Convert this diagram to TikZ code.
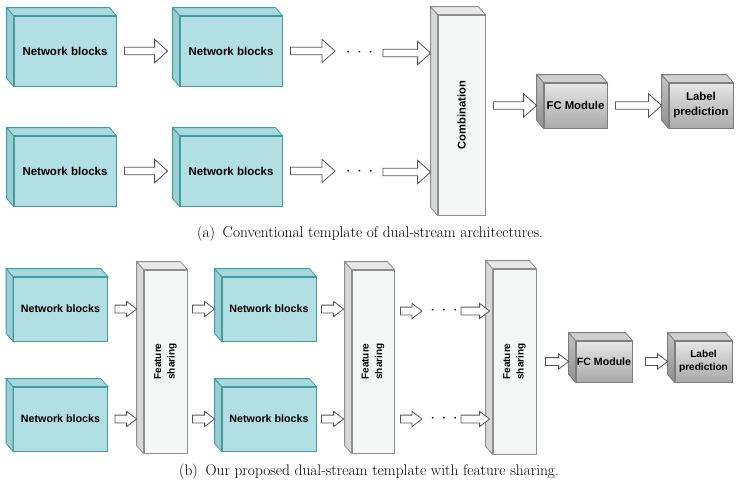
\documentclass[tikz,border=0pt]{standalone}
\usepackage{fontspec}
\newfontfamily\boxfont{Liberation Sans}
\usetikzlibrary{calc}

\definecolor{netfront}{HTML}{B2DFE3}
\definecolor{netsidec}{HTML}{9CCDD0}
\definecolor{nettopc}{HTML}{A8D8DC}
\definecolor{netline}{HTML}{3E9EA2}
\definecolor{barfront}{HTML}{F5F6F6}
\definecolor{barsidec}{HTML}{D8D8D8}
\definecolor{bartopc}{HTML}{E8E8E8}
\definecolor{barline}{HTML}{8E8E8E}
\definecolor{fctop}{HTML}{E6E6E6}
\definecolor{fcbottom}{HTML}{A9A9A9}
\definecolor{fcline}{HTML}{7E7E7E}
\definecolor{arrowline}{HTML}{555555}

% side and top faces behind a front node
\newcommand{\depthfaces}[3]{%
  \filldraw[#2] (#1.north west) -- ++(-7,-8) -- ([shift={(-7,-8)}]#1.south west) -- (#1.south west) -- cycle;
  \filldraw[#3] (#1.north west) -- ++(-7,-8) -- ([shift={(-7,-8)}]#1.north east) -- (#1.north east) -- cycle;}
\newcommand{\dotrow}{${\cdot}\hspace{6.5pt}{\cdot}\hspace{6.5pt}{\cdot}$}

\tikzset{
  netblock/.style={draw=netline, fill=netfront, line width=.8pt, inner sep=0pt,
    minimum width=102pt, minimum height=70pt,
    font=\boxfont\bfseries\fontsize{11.5}{13}\selectfont},
  netsmall/.style={netblock, minimum width=94pt, minimum height=64pt,
    font=\boxfont\bfseries\fontsize{10.7}{12}\selectfont},
  netside/.style={fill=netsidec, draw=netline, line width=.8pt},
  nettop/.style={fill=nettopc, draw=netline, line width=.8pt},
  bar/.style={draw=barline, fill=barfront, line width=.8pt, inner sep=0pt},
  barside/.style={fill=barsidec, draw=barline, line width=.8pt},
  bartop/.style={fill=bartopc, draw=barline, line width=.8pt},
  bartext/.style={rotate=90, align=center, font=\boxfont\bfseries\fontsize{10}{13.5}\selectfont},
  fcbox/.style={draw=fcline, top color=fctop, bottom color=fcbottom, line width=.8pt,
    inner sep=0pt, align=center},
  fcside/.style={draw=fcline, top color=fctop!85!black, bottom color=fcbottom!85!black, line width=.8pt},
  fctopface/.style={draw=fcline, fill=fctop!90!black, line width=.8pt},
  dots/.style={inner sep=0pt, font=\fontsize{17}{17}\selectfont},
  caption/.style={anchor=base, font=\fontsize{15.4}{18}\selectfont},
  fat/.style={draw=arrowline, fill=white, line width=.8pt, line join=miter,
    to path={let \p1=(\tikztostart), \p2=(\tikztotarget) in
      (\x1,\y1+\sh) -- (\x2-\hl,\y1+\sh) -- (\x2-\hl,\y1+\hh) -- (\x2,\y1)
      -- (\x2-\hl,\y1-\hh) -- (\x2-\hl,\y1-\sh) -- (\x1,\y1-\sh) -- cycle}},
  bigarrow/.style={fat, /utils/exec={\def\sh{3.8pt}\def\hh{11.7pt}\def\hl{13pt}}},
  smallarrow/.style={fat, /utils/exec={\def\sh{3.9pt}\def\hh{7.6pt}\def\hl{10pt}}},
}

\begin{document}
\begin{tikzpicture}[x=1pt,y=-1pt]
  \useasboundingbox (0,0) rectangle (740,483);

  % (a) conventional template
  \node[netblock] (nbA1) at (65,51) {Network blocks};
  \node[netblock] (nbA2) at (231,51) {Network blocks};
  \node[netblock] (nbA3) at (65,171) {Network blocks};
  \node[netblock] (nbA4) at (231,171) {Network blocks};
  \foreach \n in {nbA1,nbA2,nbA3,nbA4} {\depthfaces{\n}{netside}{nettop}}
  \node[bar, minimum width=47pt, minimum height=200pt] (comb) at (461.5,115) {};
  \depthfaces{comb}{barside}{bartop}
  \node[bartext, font=\boxfont\bfseries\fontsize{11.2}{13}\selectfont] (combtext) at (comb) {Combination};
  \node[fcbox, minimum width=63pt, minimum height=45pt,
    font=\boxfont\bfseries\fontsize{11.3}{13}\selectfont] (fcA) at (575.5,105.5) {FC Module};
  \depthfaces{fcA}{fcside}{fctopface}
  \node[fcbox, minimum width=64pt, minimum height=45pt,
    font=\boxfont\bfseries\fontsize{11.4}{15}\selectfont] (lpA) at (701,105.5) {Label\\prediction};
  \depthfaces{lpA}{fcside}{fctopface}
  \node[dots] (dotsA1) at (359.5,53) {\dotrow};
  \node[dots] (dotsA2) at (359.5,172) {\dotrow};

  \draw[bigarrow] ([xshift=8]nbA1.east) to ([xshift=-12]nbA2.west);
  \draw[bigarrow] ([xshift=8]nbA3.east) to ([xshift=-12]nbA4.west);
  \draw[bigarrow] ([xshift=8]nbA2.east) to ($(dotsA1)+(-24.5,0)$);
  \draw[bigarrow] ([xshift=8]nbA4.east) to ($(dotsA2)+(-24.5,0)$);
  \draw[bigarrow] ($(dotsA1)+(23.5,0)$) to ([xshift=-7]comb.west);
  \draw[bigarrow] ($(dotsA2)+(23.5,0)$) to ([xshift=-7]comb.west);
  \draw[bigarrow] ([xshift=8]comb.east |- fcA.west) to ([xshift=-7]fcA.west);
  \draw[bigarrow] ([xshift=8]fcA.east) to ([xshift=-7]lpA.west);

  \node[caption] (capA) at (370,237) {(a)\enspace Conventional template of dual-stream architectures.};

  % (b) template with feature sharing
  \node[netsmall] (nbB1) at (60.5,309) {Network blocks};
  \node[netsmall] (nbB2) at (60.5,419) {Network blocks};
  \node[netsmall] (nbB3) at (269,309) {Network blocks};
  \node[netsmall] (nbB4) at (269,419) {Network blocks};
  \foreach \n in {nbB1,nbB2,nbB3,nbB4} {\depthfaces{\n}{netside}{nettop}}
  \node[bar, minimum width=43pt, minimum height=183pt] (fs1) at (165.5,361.5) {};
  \node[bar, minimum width=42pt, minimum height=183pt] (fs2) at (373,361.5) {};
  \node[bar, minimum width=43pt, minimum height=185pt] (fs3) at (514.5,361.5) {};
  \foreach \n in {fs1,fs2,fs3} {
    \depthfaces{\n}{barside}{bartop}
    \node[bartext] (\n text) at (\n) {Feature\\sharing};
  }
  \node[fcbox, minimum width=56pt, minimum height=41pt,
    font=\boxfont\bfseries\fontsize{10.6}{12}\selectfont] (fcB) at (604,361.5) {FC Module};
  \depthfaces{fcB}{fcside}{fctopface}
  \node[fcbox, minimum width=57pt, minimum height=41pt,
    font=\boxfont\bfseries\fontsize{10.1}{12.5}\selectfont] (lpB) at (703.5,361.5) {Label\\prediction};
  \depthfaces{lpB}{fcside}{fctopface}
  \node[dots] (dotsB1) at (444,311) {\dotrow};
  \node[dots] (dotsB2) at (444,419) {\dotrow};

  \draw[smallarrow] ([xshift=7]nbB1.east) to ([xshift=-7]fs1.west);
  \draw[smallarrow] ([xshift=7]nbB2.east) to ([xshift=-7]fs1.west);
  \draw[smallarrow] ($(fs1.east |- nbB3.west)+(5,0)$) to ([xshift=-7]nbB3.west);
  \draw[smallarrow] ($(fs1.east |- nbB4.west)+(5,0)$) to ([xshift=-7]nbB4.west);
  \draw[smallarrow] ([xshift=5]nbB3.east) to ([xshift=-8]fs2.west);
  \draw[smallarrow] ([xshift=5]nbB4.east) to ([xshift=-8]fs2.west);
  \draw[smallarrow] ($(fs2.east |- dotsB1)+(6,0)$) to ($(dotsB1)+(-22,0)$);
  \draw[smallarrow] ($(fs2.east |- dotsB2)+(6,0)$) to ($(dotsB2)+(-22,0)$);
  \draw[smallarrow] ($(dotsB1)+(17,0)$) to ([xshift=-3]fs3.west);
  \draw[smallarrow] ($(dotsB2)+(17,0)$) to ([xshift=-3]fs3.west);
  \draw[smallarrow] ([xshift=9]fs3.east) to ([xshift=-7]fcB.west);
  \draw[smallarrow] ([xshift=13]fcB.east) to ([xshift=-7]lpB.west);

  \node[caption] (capB) at (369,475) {(b)\enspace Our proposed dual-stream template with feature sharing.};
\end{tikzpicture}
\end{document}
